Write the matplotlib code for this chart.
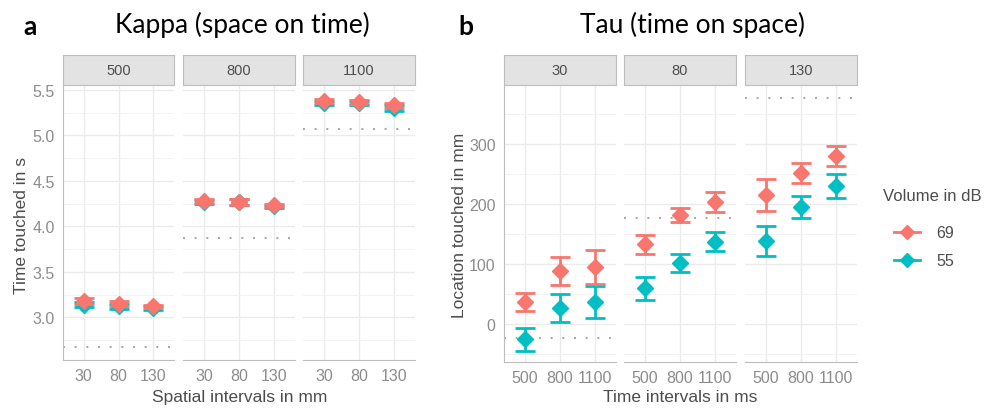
import matplotlib
matplotlib.use("Agg")
import matplotlib.pyplot as plt
from matplotlib.lines import Line2D

plt.rcParams["font.family"] = ["Liberation Sans", "DejaVu Sans"]

RED = "#F8766D"
TEAL = "#00BFC4"

# panel a: Kappa (space on time)
kappa_facets = ["500", "800", "1100"]
kappa_x = ["30", "80", "130"]
kappa_69 = [[3.18, 3.15, 3.12], [4.28, 4.27, 4.23], [5.38, 5.37, 5.33]]
kappa_69_err = [[0.03, 0.03, 0.02], [0.02, 0.03, 0.02], [0.02, 0.02, 0.03]]
kappa_55 = [[3.14, 3.12, 3.10], [4.27, 4.27, 4.22], [5.36, 5.36, 5.30]]
kappa_55_err = [[0.03, 0.03, 0.02], [0.02, 0.03, 0.02], [0.02, 0.02, 0.03]]
kappa_ref = [2.67, 3.87, 5.07]

# panel b: Tau (time on space)
tau_facets = ["30", "80", "130"]
tau_x = ["500", "800", "1100"]
tau_69 = [[37, 88, 95], [133, 182, 203], [215, 252, 280]]
tau_69_err = [[15, 23, 29], [16, 12, 17], [27, 17, 17]]
tau_55 = [[-25, 27, 37], [60, 102, 137], [138, 195, 230]]
tau_55_err = [[19, 23, 26], [19, 15, 16], [25, 18, 20]]
tau_ref = [-23, 177, 377]

W, H = 986, 410
fig = plt.figure(figsize=(W / 100, H / 100), dpi=100)
fig.patch.set_facecolor("white")


def box(x0, y0, x1, y1):
    return [x0 / W, 1 - y1 / H, (x1 - x0) / W, (y1 - y0) / H]


def facet(xs, ytop, ybot, labels, xticks, s69, e69, s55, e55, ref, ylim, yticks, yminor, yfmt):
    for i, (x0, x1) in enumerate(xs):
        ax = fig.add_axes(box(x0, ytop, x1, ybot))
        pos = list(range(1, len(xticks) + 1))
        ax.set_xlim(0.4, len(xticks) + 0.6)
        ax.set_ylim(*ylim)
        ax.set_yticks(yticks)
        ax.set_yticks(yminor, minor=True)
        ax.set_xticks(pos)
        ax.set_xticklabels(xticks)
        ax.grid(True, which="major", color="#ebebeb", lw=1.0)
        ax.grid(True, which="minor", axis="y", color="#f2f2f2", lw=0.7)
        ax.set_axisbelow(True)
        for sp in ax.spines.values():
            sp.set_visible(False)
        ax.spines["bottom"].set_visible(True)
        ax.spines["bottom"].set_color("#bdbdbd")
        if i == 0:
            ax.spines["left"].set_visible(True)
            ax.spines["left"].set_color("#bdbdbd")
            ax.set_yticklabels([yfmt(v) for v in yticks])
        else:
            ax.set_yticklabels([])
        ax.tick_params(which="both", length=0, colors="#8c8c8c", labelsize=11.5, pad=6)
        ax.axhline(ref[i], color="#a6a6a6", ls=(0, (1, 5)), lw=1.4, zorder=1)
        ax.errorbar(pos, s55[i], yerr=e55[i], fmt="D", color=TEAL, ms=8.5,
                    capsize=7, elinewidth=2, capthick=2, zorder=3)
        ax.errorbar(pos, s69[i], yerr=e69[i], fmt="D", color=RED, ms=8.5,
                    capsize=7, elinewidth=2, capthick=2, zorder=4)
        # strip
        sx = fig.add_axes(box(x0, 56, x1, ytop))
        sx.set_xticks([])
        sx.set_yticks([])
        sx.set_facecolor("#e3e3e3")
        for sp in sx.spines.values():
            sp.set_color("#bdbdbd")
        sx.text(0.5, 0.5, labels[i], ha="center", va="center", fontsize=10.5, color="#4d4d4d",
                transform=sx.transAxes)


facet([(63, 174), (183, 295), (303, 415)], 86, 361, kappa_facets, kappa_x,
      kappa_69, kappa_69_err, kappa_55, kappa_55_err, kappa_ref,
      (2.53, 5.555), [3.0, 3.5, 4.0, 4.5, 5.0, 5.5], [2.75, 3.25, 3.75, 4.25, 4.75, 5.25],
      lambda v: f"{v:.1f}")

facet([(504, 616), (624, 736), (745, 857)], 86, 363, tau_facets, tau_x,
      tau_69, tau_69_err, tau_55, tau_55_err, tau_ref,
      (-63, 398), [0, 100, 200, 300], [-50, 50, 150, 250, 350],
      lambda v: f"{v:d}")

# titles and labels
title_font = ["Lato", "DejaVu Sans"]
fig.text(30 / W, 1 - 27 / H, "a", fontsize=19, fontweight="bold", ha="center", va="center",
         family=title_font)
fig.text(242 / W, 1 - 25 / H, "Kappa (space on time)", fontsize=19, ha="center", va="center",
         family=title_font)
fig.text(466 / W, 1 - 27 / H, "b", fontsize=19, fontweight="bold", ha="center", va="center",
         family=title_font)
fig.text(693 / W, 1 - 25 / H, "Tau (time on space)", fontsize=19, ha="center", va="center",
         family=title_font)

fig.text(22 / W, 1 - 225 / H, "Time touched in s", fontsize=12.5, color="#4d4d4d",
         rotation=90, ha="center", va="center")
fig.text(240 / W, 1 - 398 / H, "Spatial intervals in mm", fontsize=12.5, color="#4d4d4d",
         ha="center", va="center")
fig.text(460 / W, 1 - 225 / H, "Location touched in mm", fontsize=12.5, color="#4d4d4d",
         rotation=90, ha="center", va="center")
fig.text(680 / W, 1 - 398 / H, "Time intervals in ms", fontsize=12.5, color="#4d4d4d",
         ha="center", va="center")

# legend
fig.text(883 / W, 1 - 197 / H, "Volume in dB", fontsize=12, color="#4d4d4d", va="center")
handles = [Line2D([], [], color=RED, marker="D", ms=7, lw=2),
           Line2D([], [], color=TEAL, marker="D", ms=7, lw=2)]
fig.legend(handles, ["69", "55"], loc="upper left", bbox_to_anchor=(880 / W, 1 - 212 / H),
           frameon=False, fontsize=11.5, handlelength=1.6, labelspacing=0.8, handletextpad=1.0,
           labelcolor="#4d4d4d")

fig.savefig("out.png", dpi=100, facecolor="white")
